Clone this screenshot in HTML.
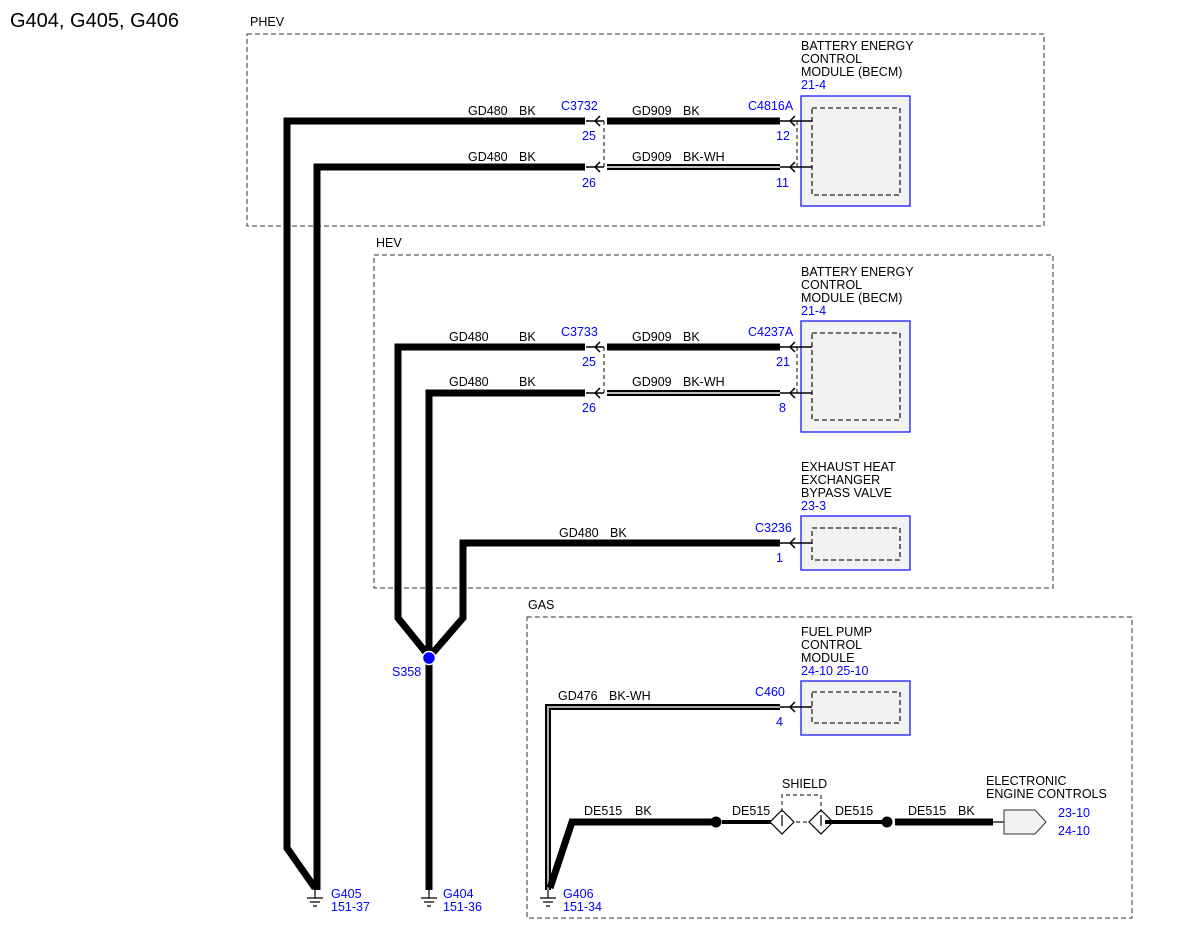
<!DOCTYPE html>
<html><head><meta charset="utf-8"><style>
html,body{margin:0;padding:0;background:#fff;}
svg{display:block;font-family:"Liberation Sans",sans-serif;}
.t{font-size:12.5px;fill:#000;}
.b{font-size:12.5px;fill:#0000ff;}
.box{fill:none;stroke:#333;stroke-width:1;stroke-dasharray:5,3;}
.mod{fill:#f2f2f2;stroke:#1a1aff;stroke-width:1.3;}
.inn{fill:none;stroke:#222;stroke-width:1.3;stroke-dasharray:5,3;}
.w{fill:none;stroke:#000;stroke-width:7;stroke-linejoin:miter;}
.thin{stroke:#000;stroke-width:1.2;fill:none;}
.arr{stroke:#000;stroke-width:1.5;fill:none;}
.dsh{stroke:#333;stroke-width:1.2;stroke-dasharray:4,3;fill:none;}
</style></head><body>
<svg width="1200" height="927" viewBox="0 0 1200 927">
<text x="10" y="27" style="font-size:20px" fill="#000">G404, G405, G406</text>

<!-- PHEV -->
<text class="t" x="250" y="26">PHEV</text>
<rect class="box" x="247" y="34" width="797" height="192"/>
<text class="t" x="801" y="50">BATTERY ENERGY</text>
<text class="t" x="801" y="63">CONTROL</text>
<text class="t" x="801" y="76">MODULE (BECM)</text>
<text class="b" x="801" y="89">21-4</text>
<rect class="mod" x="801" y="96" width="109" height="110"/>
<rect class="inn" x="812" y="108" width="88" height="87"/>
<text class="t" x="468" y="115">GD480</text><text class="t" x="519" y="115">BK</text>
<text class="t" x="468" y="161">GD480</text><text class="t" x="519" y="161">BK</text>
<text class="b" x="561" y="110">C3732</text>
<text class="b" x="582" y="140">25</text><text class="b" x="582" y="187">26</text>
<text class="t" x="632" y="115">GD909</text><text class="t" x="683" y="115">BK</text>
<text class="t" x="632" y="161">GD909</text><text class="t" x="683" y="161">BK-WH</text>
<text class="b" x="748" y="110">C4816A</text>
<text class="b" x="776" y="140">12</text><text class="b" x="776" y="187">11</text>
<polyline class="w" points="585,121 287,121 287,848 315,888"/>
<polyline class="w" points="585,167 317,167 317,890"/>
<line class="w" x1="607" y1="121" x2="780" y2="121"/>
<line x1="607" y1="167" x2="780" y2="167" stroke="#000" stroke-width="6"/>
<line x1="607" y1="167" x2="780" y2="167" stroke="#fff" stroke-width="1.5"/>
<line class="dsh" x1="604" y1="121" x2="604" y2="167"/>
<line class="dsh" x1="797" y1="121" x2="797" y2="167"/>

<!-- HEV -->
<text class="t" x="376" y="247">HEV</text>
<rect class="box" x="374" y="255" width="679" height="333"/>
<text class="t" x="801" y="276">BATTERY ENERGY</text>
<text class="t" x="801" y="289">CONTROL</text>
<text class="t" x="801" y="302">MODULE (BECM)</text>
<text class="b" x="801" y="315">21-4</text>
<rect class="mod" x="801" y="321" width="109" height="111"/>
<rect class="inn" x="812" y="333" width="88" height="87"/>
<text class="t" x="449" y="341">GD480</text><text class="t" x="519" y="341">BK</text>
<text class="t" x="449" y="386">GD480</text><text class="t" x="519" y="386">BK</text>
<text class="b" x="561" y="336">C3733</text>
<text class="b" x="582" y="366">25</text><text class="b" x="582" y="412">26</text>
<text class="t" x="632" y="341">GD909</text><text class="t" x="683" y="341">BK</text>
<text class="t" x="632" y="386">GD909</text><text class="t" x="683" y="386">BK-WH</text>
<text class="b" x="748" y="336">C4237A</text>
<text class="b" x="776" y="366">21</text><text class="b" x="779" y="412">8</text>
<polyline class="w" points="585,347 398,347 398,618 428,655"/>
<polyline class="w" points="585,393 429,393 429,890"/>
<line class="w" x1="607" y1="347" x2="780" y2="347"/>
<line x1="607" y1="393" x2="780" y2="393" stroke="#000" stroke-width="6"/>
<line x1="607" y1="393" x2="780" y2="393" stroke="#fff" stroke-width="1.5"/>
<line class="dsh" x1="604" y1="347" x2="604" y2="393"/>
<line class="dsh" x1="797" y1="347" x2="797" y2="393"/>

<text class="t" x="801" y="471">EXHAUST HEAT</text>
<text class="t" x="801" y="484">EXCHANGER</text>
<text class="t" x="801" y="497">BYPASS VALVE</text>
<text class="b" x="801" y="510">23-3</text>
<rect class="mod" x="801" y="516" width="109" height="54"/>
<rect class="inn" x="812" y="528" width="88" height="32"/>
<text class="t" x="559" y="537">GD480</text><text class="t" x="610" y="537">BK</text>
<text class="b" x="755" y="532">C3236</text>
<text class="b" x="776" y="562">1</text>
<polyline class="w" points="780,543 463,543 463,618 431,655"/>
<circle cx="429" cy="658" r="6.5" fill="#0000ff" stroke="#fff" stroke-width="1.5"/>
<text class="b" x="392" y="676">S358</text>

<!-- GAS -->
<text class="t" x="528" y="609">GAS</text>
<rect class="box" x="527" y="617" width="605" height="301"/>
<text class="t" x="801" y="636">FUEL PUMP</text>
<text class="t" x="801" y="649">CONTROL</text>
<text class="t" x="801" y="662">MODULE</text>
<text class="b" x="801" y="675">24-10 25-10</text>
<rect class="mod" x="801" y="681" width="109" height="54"/>
<rect class="inn" x="812" y="692" width="88" height="31"/>
<text class="t" x="558" y="700">GD476</text><text class="t" x="609" y="700">BK-WH</text>
<text class="b" x="755" y="696">C460</text>
<text class="b" x="776" y="726">4</text>
<polyline points="780,707 548,707 548,890" fill="none" stroke="#000" stroke-width="6"/>
<polyline points="780,707 548,707 548,890" fill="none" stroke="#aaa" stroke-width="2"/>
<polyline class="w" points="715,822 572,822 550,888"/>
<text class="t" x="584" y="815">DE515</text><text class="t" x="635" y="815">BK</text>
<circle cx="716" cy="822" r="5.5" fill="#000"/>
<line x1="722" y1="822" x2="778" y2="822" stroke="#000" stroke-width="4"/>
<text class="t" x="732" y="815">DE515</text>
<line class="dsh" x1="782" y1="822" x2="821" y2="822"/>
<polygon points="782,810 794,822 782,834 770,822" fill="#fff" stroke="#000" stroke-width="1.2"/>
<polygon points="821,810 833,822 821,834 809,822" fill="#fff" stroke="#000" stroke-width="1.2"/>
<line class="thin" x1="782" y1="815" x2="782" y2="826"/>
<line class="thin" x1="821" y1="815" x2="821" y2="826"/>
<polyline class="dsh" points="782,812 782,795 821,795 821,812"/>
<text class="t" x="782" y="788">SHIELD</text>
<line x1="825" y1="822" x2="882" y2="822" stroke="#000" stroke-width="4"/>
<text class="t" x="835" y="815">DE515</text>
<circle cx="887" cy="822" r="5.5" fill="#000"/>
<line class="w" x1="895" y1="822" x2="993" y2="822"/>
<text class="t" x="908" y="815">DE515</text><text class="t" x="958" y="815">BK</text>
<line class="thin" x1="993" y1="822" x2="1004" y2="822"/>
<polygon points="1004,810 1035,810 1046,822 1035,834 1004,834" fill="#f2f2f2" stroke="#333" stroke-width="1"/>
<text class="t" x="986" y="785">ELECTRONIC</text>
<text class="t" x="986" y="798">ENGINE CONTROLS</text>
<text class="b" x="1058" y="817">23-10</text>
<text class="b" x="1058" y="835">24-10</text>

<!-- connector arrows -->
<g class="arr">
<path d="M586,121H604M600,116L595,121L600,126"/>
<path d="M586,167H604M600,162L595,167L600,172"/>
<path d="M780,121H812M795,116L790,121L795,126"/>
<path d="M780,167H812M795,162L790,167L795,172"/>
<path d="M586,347H604M600,342L595,347L600,352"/>
<path d="M586,393H604M600,388L595,393L600,398"/>
<path d="M780,347H812M795,342L790,347L795,352"/>
<path d="M780,393H812M795,388L790,393L795,398"/>
<path d="M780,543H812M795,538L790,543L795,548"/>
<path d="M780,707H812M795,702L790,707L795,712"/>
</g>

<!-- grounds -->
<g class="thin">
<path d="M315,890V898M307,898H323M310,902H320M313,906H317"/>
<path d="M429,890V898M421,898H437M424,902H434M427,906H431"/>
<path d="M548,890V898M540,898H556M543,902H553M546,906H550"/>
</g>
<text class="b" x="331" y="898">G405</text><text class="b" x="331" y="911">151-37</text>
<text class="b" x="443" y="898">G404</text><text class="b" x="443" y="911">151-36</text>
<text class="b" x="563" y="898">G406</text><text class="b" x="563" y="911">151-34</text>
</svg>
</body></html>
